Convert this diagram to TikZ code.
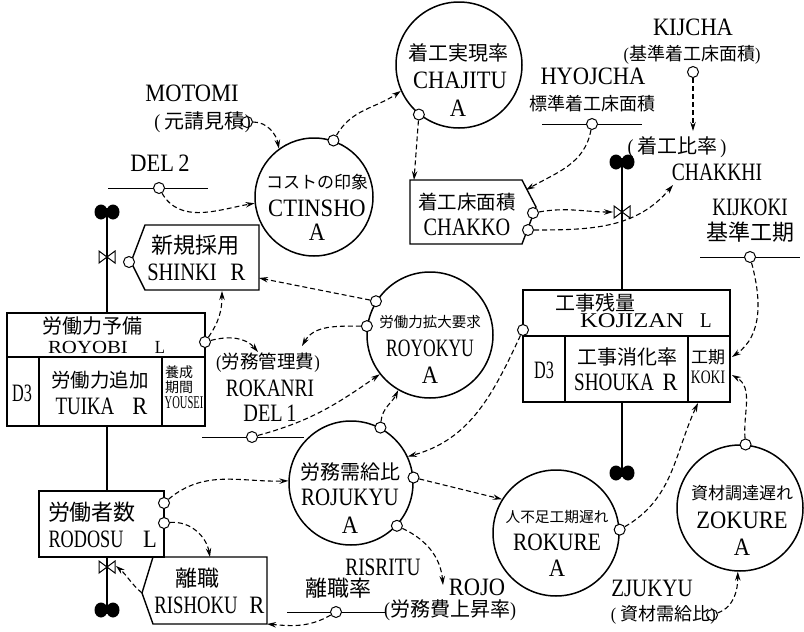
\documentclass[tikz,border=0pt]{standalone}
\usepackage{fontspec}
\usepackage{graphicx}
\setmainfont{Liberation Serif}[FakeStretch=0.9]
\newfontfamily\jp{Noto Sans CJK JP}
\usetikzlibrary{arrows.meta}
\newcommand\hs[2]{\scalebox{#1}[1]{#2}}
\newcommand\fs[1]{\fontsize{#1}{#1}\selectfont}
\tikzset{
 aux/.style={circle, draw, line width=1.5pt, inner sep=0pt, minimum size=#1},
 tap/.style={circle, draw, line width=1pt, fill=white, inner sep=0pt, minimum size=11pt},
 otap/.style={circle, draw, line width=1pt, inner sep=0pt, minimum size=11pt},
 lab/.style={inner sep=0pt, font=\fs{25}},
 jl/.style={inner sep=0pt, font=\jp\fs{#1}},
 bx/.style={draw, line width=1.4pt, inner sep=0pt},
 flow/.style={line width=1.3pt},
 cline/.style={line width=1pt},
 dep/.style={line width=1.1pt, dash pattern=on 5pt off 3pt, -{Stealth[length=9pt,width=5.5pt,inset=3pt]}},
 sourcesym/.pic={\fill (-6,0) ellipse [x radius=6.5pt, y radius=7.5pt];
                 \fill (6,0) ellipse [x radius=6.5pt, y radius=7.5pt];
                 \fill (-6,-4) rectangle (6,4);},
 valvesym/.pic={\draw[line width=1pt, fill=white] (0,0) -- (-8,6) -- (-8,-6) -- cycle
                 (0,0) -- (8,6) -- (8,-6) -- cycle;},
}
\begin{document}
\begin{tikzpicture}[x=1pt,y=1pt]
\useasboundingbox (0,0) rectangle (804,-632);

% ---------- flow coordinates
\coordinate (s1) at (107,-212);
\coordinate (s2) at (107,-610);
\coordinate (s3) at (622,-162);
\coordinate (s4) at (622,-473);

% ---------- levels
\node[bx, minimum width=198pt, minimum height=113pt] (royobi) at (106,-369.5) {};
\draw[bx] (7,-357) -- (205,-357) (39,-357) -- (39,-426) (162,-357) -- (162,-426);
\node[bx, minimum width=125pt, minimum height=66pt] (rodosu) at (101.5,-524) {};
\node[bx, minimum width=207pt, minimum height=112pt] (kojizan) at (626.5,-346) {};
\draw[bx] (523,-336) -- (730,-336) (565,-336) -- (565,-402) (688,-336) -- (688,-402);

% ---------- rates
\coordinate (shP) at (131,-262); \coordinate (shTL) at (145,-225);
\coordinate (shTR) at (259,-225); \coordinate (shBR) at (259,-290);
\coordinate (shBL) at (145,-290);
\draw[bx] (shP) -- (shTL) -- (shTR) -- (shBR) -- (shBL) -- cycle;
\coordinate (ckTL) at (410,-180); \coordinate (ckTR) at (522,-180);
\coordinate (ckP) at (536,-207); \coordinate (ckBR) at (522,-244);
\coordinate (ckBL) at (410,-244);
\draw[bx] (ckTL) -- (ckTR) -- (ckP) -- (ckBR) -- (ckBL) -- cycle;
\coordinate (rsTL) at (153,-557); \coordinate (rsTR) at (267,-557);
\coordinate (rsBR) at (267,-624); \coordinate (rsBL) at (153,-624);
\coordinate (rsP) at (142,-593);
\draw[bx] (rsP) -- (rsTL) -- (rsTR) -- (rsBR) -- (rsBL) -- cycle;

% ---------- flows
\draw[flow] (s1) -- (s1 |- royobi.north);
\draw[flow] (s1 |- royobi.south) -- (s1 |- rodosu.north);
\draw[flow] (s1 |- rodosu.south) -- (s2);
\draw[flow] (s3) -- (s3 |- kojizan.north);
\draw[flow] (s3 |- kojizan.south) -- (s4);
\pic at (s1) {sourcesym};
\pic at (s2) {sourcesym};
\pic at (s3) {sourcesym};
\pic at (s4) {sourcesym};
\coordinate (v1) at (107,-257);
\coordinate (v2) at (107,-567);
\coordinate (v3) at (622,-212);
\pic at (v1) {valvesym};
\pic at (v2) {valvesym};
\pic at (v3) {valvesym};

% ---------- auxiliaries
\node[aux=126pt] (chajitu) at (459,-65) {};
\node[aux=118pt] (ctinsho) at (314,-197) {};
\node[aux=126pt] (royokyu) at (430,-335) {};
\node[aux=124pt] (rojukyu) at (351,-483) {};
\node[aux=126pt] (rokure) at (556,-533) {};
\node[aux=126pt] (zokure) at (740,-508) {};

% ---------- circle texts
\node[jl=20] (cha1) at (458,-53) {着工実現率};
\node[lab] (cha2) at (460,-80) {CHAJITU};
\node[lab] (cha3) at (458,-108) {A};
\node[jl=17] (ct1) at (317,-182) {コストの印象};
\node[lab] (ct2) at (317,-208) {CTINSHO};
\node[lab] (ct3) at (317,-232) {A};
\node[jl=14.5] (ry1) at (430,-322) {労働力拡大要求};
\node[lab] (ry2) at (430,-348) {\hs{.78}{ROYOKYU}};
\node[lab] (ry3) at (430,-375) {A};
\node[jl=20] (rj1) at (350,-472) {労務需給比};
\node[lab] (rj2) at (350,-497) {\hs{.93}{ROJUKYU}};
\node[lab] (rj3) at (350,-525) {A};
\node[jl=14.7] (rk1) at (557,-517) {人不足工期遅れ};
\node[lab] (rk2) at (557,-542) {\hs{.95}{ROKURE}};
\node[lab] (rk3) at (557,-568) {A};
\node[jl=17] (zk1) at (742,-493) {資材調達遅れ};
\node[lab] (zk2) at (742,-520) {ZOKURE};
\node[lab] (zk3) at (742,-547) {A};

% ---------- box texts
\node[jl=22] (sh1) at (195,-245) {新規採用};
\node[lab] (sh2) at (182,-272) {\hs{.91}{SHINKI}};
\node[lab] (sh3) at (238,-272) {R};
\node[jl=19.5] (ck1) at (467,-202) {着工床面積};
\node[lab] (ck2) at (467,-227) {\hs{.9}{CHAKKO}};
\node[jl=22] (rs1) at (197,-578) {離職};
\node[lab] (rs2) at (196,-605) {\hs{.83}{RISHOKU}};
\node[lab] (rs3) at (257,-605) {R};
\node[jl=20] (yb1) at (92,-326) {労働力予備};
\node[lab, font=\fs{18.5}] (yb2) at (88,-347) {\hs{1.25}{ROYOBI}};
\node[lab, font=\fs{18.5}] (yb3) at (160,-347) {L};
\node[lab] (yb4) at (22,-393) {\hs{.72}{D3}};
\node[jl=19.5] (yb5) at (100,-380) {労働力追加};
\node[lab] (yb6) at (85,-406) {\hs{.84}{TUIKA}};
\node[lab] (yb7) at (140,-406) {R};
\node[jl=14] (yb8) at (179,-372) {養成};
\node[jl=14] (yb9) at (179,-387) {期間};
\node[lab, font=\fs{18}] (yb10) at (184,-403) {\hs{.65}{YOUSEI}};
\node[jl=22] (rd1) at (92,-512) {労働者数};
\node[lab] (rd2) at (86,-539) {\hs{.81}{RODOSU}};
\node[lab] (rd3) at (150,-539) {L};
\node[jl=20] (kz1) at (595,-303) {工事残量};
\node[lab, font=\fs{21}] (kz2) at (632,-321) {\hs{1.3}{KOJIZAN}};
\node[lab, font=\fs{21}] (kz3) at (706,-321) {L};
\node[lab] (kz4) at (544,-370) {\hs{.72}{D3}};
\node[jl=20] (kz5) at (627,-357) {工事消化率};
\node[lab] (kz6) at (614,-382) {\hs{.85}{SHOUKA}};
\node[lab] (kz7) at (670,-382) {R};
\node[jl=17] (kz8) at (708,-357) {工期};
\node[lab, font=\fs{19}] (kz9) at (708,-377) {\hs{.8}{KOKI}};

% ---------- free labels
\node[lab] (kij1) at (693,-27) {KIJCHA};
\node[lab, font=\fs{18}] (kij2) at (692,-55) {({\jp 基準着工床面積})};
\node[lab] (hyo1) at (593,-76) {HYOJCHA};
\node[jl=18] (hyo2) at (592,-104) {標準着工床面積};
\node[lab, font=\fs{20}] (chh1) at (677,-147) {(\,{\jp 着工比率}\,)};
\node[lab] (chh2) at (717,-172) {\hs{.87}{CHAKKHI}};
\node[lab] (kk1) at (750,-207) {\hs{.85}{KIJKOKI}};
\node[jl=22] (kk2) at (750,-232) {基準工期};
\node[lab] (mo1) at (192,-93) {MOTOMI};
\node[lab, font=\fs{20}, anchor=east] (mo2) at (251,-122) {(\ {\jp 元請見積})};
\node[lab] (d2) at (160,-163) {DEL\,2};
\node[lab, font=\fs{18.5}] (kan1) at (268,-363) {({\jp 労務管理費})};
\node[lab] (kan2) at (270,-388) {\hs{.86}{ROKANRI}};
\node[lab] (kan3) at (270,-413) {\hs{.9}{DEL\,1}};
\node[lab] (ris1) at (383,-567) {\hs{.86}{RISRITU}};
\node[jl=22] (ris2) at (338,-588) {離職率};
\node[lab] (rojo1) at (477,-587) {ROJO};
\node[lab, font=\fs{20}] (rojo2) at (450,-610) {({\jp 労務費上昇率})};
\node[lab] (zj1) at (652,-588) {\hs{.93}{ZJUKYU}};
\node[lab, font=\fs{18}, anchor=east] (zj2) at (716,-615) {(\ {\jp 資材需給比})};

% ---------- constant lines
\coordinate (dl2a) at (108,-188); \coordinate (dl2b) at (208,-188);
\coordinate (hya) at (542,-124); \coordinate (hyb) at (642,-124);
\coordinate (kka) at (700,-257); \coordinate (kkb) at (800,-257);
\coordinate (dl1a) at (202,-437); \coordinate (dl1b) at (304,-437);
\coordinate (rra) at (287,-612); \coordinate (rrb) at (385,-612);
\draw[cline] (dl2a) -- (dl2b);
\draw[cline] (hya) -- (hyb);
\draw[cline] (kka) -- (kkb);
\draw[cline] (dl1a) -- (dl1b);
\draw[cline] (rra) -- (rrb);

% ---------- taps
\node[otap] (tMot) at (247,-122) {};
\node[tap] (tDel2) at (159,-188) {};
\node[tap] (tCt) at (ctinsho.71) {};
\node[tap] (tCha) at (chajitu.231) {};
\node[tap] (tHyo) at (592,-124) {};
\node[tap] (tKij) at (693,-72) {};
\node[tap] (tCk1) at (533,-213) {};
\node[tap] (tCk2) at (528,-230) {};
\node[tap] (tKk) at (750,-257) {};
\node[tap] (tZo) at (zokure.85) {};
\node[tap] (tRk) at (rokure.3) {};
\node[tap] (tKoj) at (523,-330) {};
\node[tap] (tRy1) at (royokyu.148) {};
\node[tap] (tRy2) at (royokyu.172) {};
\node[tap] (tRyb) at (205,-342) {};
\node[tap] (tSh) at (129,-262) {};
\node[tap] (tDel1) at (252,-437) {};
\node[tap] (tRj1) at (rojukyu.62) {};
\node[tap] (tRj2) at (rojukyu.5) {};
\node[tap] (tRj3) at (rojukyu.-43) {};
\node[tap] (tRd1) at (164,-503) {};
\node[tap] (tRd2) at (164,-523) {};
\node[tap] (tRis) at (336,-612) {};
\node[otap] (tZj) at (712,-615) {};

% ---------- arrow targets
\coordinate (ckTop) at (414,-180);
\coordinate (ckUR) at (526,-190);
\coordinate (chhTop) at (693,-131);
\coordinate (v3W) at (613,-212);
\coordinate (chhA) at (673,-185);
\coordinate (kokiE1) at (732,-357);
\coordinate (kokiE2) at (732,-375);
\coordinate (kojBot) at (698,-403);
\coordinate (shE) at (259,-278);
\coordinate (kanA) at (302,-346);
\coordinate (kanB) at (258,-352);
\coordinate (shS) at (222,-291);
\coordinate (rojoA) at (443,-585);
\coordinate (rsN) at (210,-557);
\coordinate (v2E) at (116,-566);

% ---------- dependencies
\draw[dep] (tMot) to[out=0,in=100] (ctinsho.126);
\draw[dep] (tDel2) to[out=-60,in=190] (ctinsho.186);
\draw[dep] (tCt) to[out=60,in=215] (chajitu.204);
\draw[dep] (tCha) -- (ckTop);
\draw[dep] (tHyo) to[out=-100,in=30] (ckUR);
\draw[dep] (tKij) -- (chhTop);
\draw[dep] (tCk1) to[out=10,in=180] (v3W);
\draw[dep] (tCk2) to[out=0,in=230] (chhA);
\draw[dep] (tKk) to[out=-75,in=35] (kokiE1);
\draw[dep] (tZo) to[out=95,in=-30] (kokiE2);
\draw[dep] (tRk) to[out=30,in=245] (kojBot);
\draw[dep] (tKoj) to[out=-115,in=15] (rojukyu.25);
\draw[dep] (tRy1) -- (shE);
\draw[dep] (tRy2) to[out=180,in=60] (kanA);
\draw[dep] (tRyb) to[out=55,in=-90] (shS);
\draw[dep] (tRyb) to[out=15,in=130] (kanB);
\draw[dep] (tDel1) to[out=15,in=215] (royokyu.218);
\draw[dep] (tRj1) to[out=85,in=-115] (royokyu.240);
\draw[dep] (tRj2) -- (rokure.148);
\draw[dep] (tRj3) to[out=-25,in=95] (rojoA);
\draw[dep] (tRd1) to[out=40,in=182] (rojukyu.178);
\draw[dep] (tRd2) to[out=5,in=100] (rsN);
\draw[dep] (rsP) to[out=140,in=-40] (v2E);
\draw[dep] (tRis) to[out=-150,in=-5] (rsBR);
\draw[dep] (tZj) to[out=20,in=-90] (zokure.268);
\end{tikzpicture}
\end{document}
